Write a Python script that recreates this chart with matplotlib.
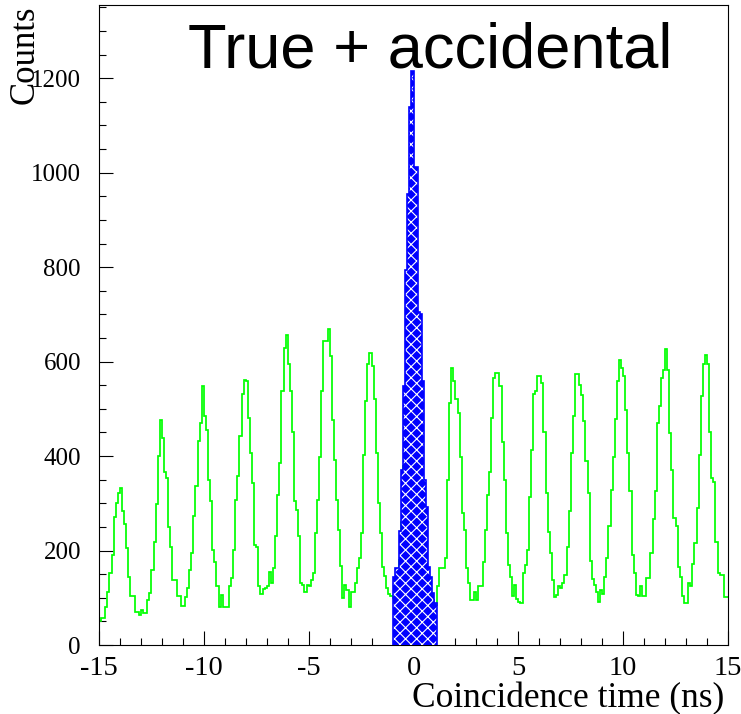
import matplotlib
matplotlib.use('Agg')
import matplotlib.pyplot as plt
import numpy as np
from matplotlib.ticker import MultipleLocator

# ---- data: counts per 0.1 ns bin, one list per 2 ns period ----
green_m15_m13 = [50, 57, 57, 81, 113, 152, 190, 270, 300, 322, 333, 283, 257, 206, 145, 104, 104, 69, 69, 64]
green_m13_m11 = [75, 67, 67, 95, 111, 159, 219, 298, 400, 477, 438, 367, 353, 250, 208, 138, 138, 104, 104, 83]
green_m11_m9 = [83, 101, 120, 159, 194, 274, 336, 431, 470, 548, 484, 456, 350, 304, 201, 175, 124, 81, 106, 81]
green_m9_m7 = [81, 81, 124, 141, 201, 307, 357, 443, 532, 562, 558, 481, 407, 343, 212, 208, 124, 109, 118, 120]
green_m7_m5 = [124, 155, 131, 163, 231, 318, 385, 537, 629, 657, 594, 537, 452, 304, 285, 230, 131, 127, 113, 127]
green_m5_m3 = [124, 138, 152, 237, 307, 399, 537, 643, 643, 668, 611, 477, 392, 307, 244, 167, 99, 127, 116, 81]
green_m3_m1 = [113, 113, 131, 163, 184, 238, 403, 516, 594, 619, 590, 520, 407, 300, 238, 166, 146, 120, 109, 104]
green_m1_p1 = [100, 110, 130, 180, 260, 380, 500, 580, 610, 600, 560, 480, 380, 280, 200, 140, 110, 100, 95, 95]
green_p1_p3 = [85, 124, 163, 163, 163, 184, 350, 512, 587, 558, 520, 492, 399, 279, 244, 163, 131, 95, 95, 113]
green_p3_p5 = [95, 124, 125, 175, 244, 318, 367, 481, 566, 576, 576, 548, 430, 349, 237, 170, 145, 104, 127, 97]
green_p5_p7 = [92, 88, 152, 170, 201, 314, 413, 532, 537, 570, 570, 555, 450, 322, 240, 194, 138, 102, 106, 124]
green_p7_p9 = [120, 131, 148, 208, 283, 406, 484, 574, 574, 551, 530, 474, 389, 322, 177, 140, 127, 113, 92, 117]
green_p9_p11 = [109, 145, 184, 251, 329, 399, 478, 558, 604, 587, 570, 498, 406, 325, 190, 152, 106, 104, 124, 104]
green_p11_p13 = [104, 141, 141, 194, 266, 327, 470, 505, 566, 583, 626, 583, 449, 371, 268, 252, 166, 143, 104, 88]
green_p13_p15 = [88, 131, 124, 172, 216, 290, 403, 527, 594, 615, 594, 452, 353, 346, 219, 152, 148, 148, 102, 102]

# true coincidences, bins of 0.1 ns from -1.0 to 1.1 ns
blue_true = [145, 163, 163, 241, 371, 548, 795, 954, 1140, 1215, 1011, 1011, 704, 700, 558, 350, 293, 166, 145, 110, 88]

x_min, x_max = -15, 15
true_min, true_max = -1.0, 1.1

x_title = 'Coincidence time (ns)'
y_title = 'Counts'
label_text = 'True + accidental'

plt.rcParams['font.family'] = ['Liberation Serif', 'DejaVu Serif']
plt.rcParams['axes.unicode_minus'] = False
plt.rcParams['hatch.color'] = 'white'
plt.rcParams['hatch.linewidth'] = 0.8

green = np.concatenate([green_m15_m13, green_m13_m11, green_m11_m9, green_m9_m7,
                        green_m7_m5, green_m5_m3, green_m3_m1, green_m1_p1,
                        green_p1_p3, green_p3_p5, green_p5_p7, green_p7_p9,
                        green_p9_p11, green_p11_p13, green_p13_p15]).astype(float)
edges = np.linspace(x_min, x_max, len(green) + 1)
bedges = np.linspace(true_min, true_max, len(blue_true) + 1)

W, H = 741, 714
fig = plt.figure(figsize=(W / 100, H / 100), dpi=100)
ax = fig.add_axes([99 / W, 69 / H, 629 / W, 640 / H])

ax.stairs(green, edges, baseline=None, color='#00ff00', lw=1.25, zorder=2)
ax.stairs(blue_true, bedges, fill=True, facecolor='#0000ff', edgecolor='white',
          hatch='xxx', lw=0, zorder=3)
ax.stairs(blue_true, bedges, color='#0000ff', lw=1.2, zorder=4)

ax.set_xlim(x_min, x_max)
ax.set_ylim(0, 1355)
ax.xaxis.set_major_locator(MultipleLocator(5))
ax.xaxis.set_minor_locator(MultipleLocator(1))
ax.yaxis.set_major_locator(MultipleLocator(200))
ax.yaxis.set_minor_locator(MultipleLocator(50))
ax.tick_params(which='both', direction='in', top=False, right=False, width=0.8)
ax.tick_params(which='major', length=10)
ax.tick_params(which='minor', length=5)
ax.tick_params(axis='x', labelsize=20.5, pad=8)
ax.tick_params(axis='y', labelsize=18, pad=13)
for s in ax.spines.values():
    s.set_linewidth(0.8)

fig.text(724 / W, 7 / H, x_title, ha='right', va='baseline', fontsize=25.5)
fig.text(25 / W, 1 - 5 / H, y_title, rotation=90, ha='center', va='top', fontsize=25)
fig.text(188 / W, 1 - 67 / H, label_text, family=['Liberation Sans', 'DejaVu Sans'],
         fontsize=45.5, ha='left', va='baseline')

fig.savefig('out.png', dpi=100)
